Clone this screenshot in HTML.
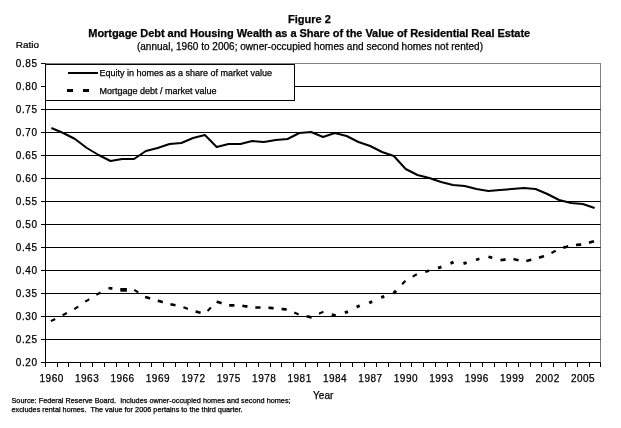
<!DOCTYPE html>
<html><head><meta charset="utf-8"><title>Figure 2</title>
<style>
html,body{margin:0;padding:0;background:#fff;width:621px;height:428px;overflow:hidden}
svg{display:block}
text{font-family:"Liberation Sans", Arial, sans-serif;fill:#000;stroke:#000;stroke-width:0.25px}
</style></head><body>
<svg width="621" height="428" viewBox="0 0 621 428">
<rect x="0" y="0" width="621" height="428" fill="#fff"/>

<text x="309.5" y="22.7" font-size="11" font-weight="bold" text-anchor="middle">Figure 2</text>
<text x="309.2" y="37" font-size="11" font-weight="bold" text-anchor="middle" letter-spacing="-0.05">Mortgage Debt and Housing Wealth as a Share of the Value of Residential Real Estate</text>
<text x="310" y="49.6" font-size="10" text-anchor="middle" letter-spacing="0.02">(annual, 1960 to 2006; owner-occupied homes and second homes not rented)</text>
<text transform="translate(15.7 47.9) scale(1 0.93)" font-size="10">Ratio</text>
<rect x="45.5" y="63.5" width="555.0" height="299.0" fill="none" stroke="#808080" stroke-width="1"/>
<path d="M45.5 86.5H600.5 M45.5 109.5H600.5 M45.5 132.5H600.5 M45.5 155.5H600.5 M45.5 178.5H600.5 M45.5 201.5H600.5 M45.5 224.5H600.5 M45.5 247.5H600.5 M45.5 270.5H600.5 M45.5 293.5H600.5 M45.5 316.5H600.5 M45.5 339.5H600.5" stroke="#000" stroke-width="1" fill="none"/>
<path d="M45.5 63.5V362.5H600.5" stroke="#000" stroke-width="1" fill="none"/>
<path d="M41 63.5H45.5 M41 86.5H45.5 M41 109.5H45.5 M41 132.5H45.5 M41 155.5H45.5 M41 178.5H45.5 M41 201.5H45.5 M41 224.5H45.5 M41 247.5H45.5 M41 270.5H45.5 M41 293.5H45.5 M41 316.5H45.5 M41 339.5H45.5 M41 362.5H45.5 M45.5 362.5V367 M57.5 362.5V367 M68.5 362.5V367 M80.5 362.5V367 M92.5 362.5V367 M104.5 362.5V367 M116.5 362.5V367 M128.5 362.5V367 M139.5 362.5V367 M151.5 362.5V367 M163.5 362.5V367 M175.5 362.5V367 M187.5 362.5V367 M199.5 362.5V367 M210.5 362.5V367 M222.5 362.5V367 M234.5 362.5V367 M246.5 362.5V367 M258.5 362.5V367 M270.5 362.5V367 M281.5 362.5V367 M293.5 362.5V367 M305.5 362.5V367 M317.5 362.5V367 M329.5 362.5V367 M340.5 362.5V367 M352.5 362.5V367 M364.5 362.5V367 M376.5 362.5V367 M388.5 362.5V367 M400.5 362.5V367 M411.5 362.5V367 M423.5 362.5V367 M435.5 362.5V367 M447.5 362.5V367 M459.5 362.5V367 M470.5 362.5V367 M482.5 362.5V367 M494.5 362.5V367 M506.5 362.5V367 M518.5 362.5V367 M530.5 362.5V367 M541.5 362.5V367 M553.5 362.5V367 M565.5 362.5V367 M577.5 362.5V367 M589.5 362.5V367 M600.5 362.5V367" stroke="#000" stroke-width="1" fill="none"/>
<text x="37.6" y="66.9" font-size="10" text-anchor="end" letter-spacing="0.6">0.85</text>
<text x="37.6" y="89.9" font-size="10" text-anchor="end" letter-spacing="0.6">0.80</text>
<text x="37.6" y="112.9" font-size="10" text-anchor="end" letter-spacing="0.6">0.75</text>
<text x="37.6" y="135.9" font-size="10" text-anchor="end" letter-spacing="0.6">0.70</text>
<text x="37.6" y="158.9" font-size="10" text-anchor="end" letter-spacing="0.6">0.65</text>
<text x="37.6" y="181.9" font-size="10" text-anchor="end" letter-spacing="0.6">0.60</text>
<text x="37.6" y="204.9" font-size="10" text-anchor="end" letter-spacing="0.6">0.55</text>
<text x="37.6" y="227.9" font-size="10" text-anchor="end" letter-spacing="0.6">0.50</text>
<text x="37.6" y="250.9" font-size="10" text-anchor="end" letter-spacing="0.6">0.45</text>
<text x="37.6" y="273.9" font-size="10" text-anchor="end" letter-spacing="0.6">0.40</text>
<text x="37.6" y="296.9" font-size="10" text-anchor="end" letter-spacing="0.6">0.35</text>
<text x="37.6" y="319.9" font-size="10" text-anchor="end" letter-spacing="0.6">0.30</text>
<text x="37.6" y="342.9" font-size="10" text-anchor="end" letter-spacing="0.6">0.25</text>
<text x="37.6" y="365.9" font-size="10" text-anchor="end" letter-spacing="0.6">0.20</text>
<text x="51.65" y="381.7" font-size="10" text-anchor="middle" letter-spacing="0.5">1960</text>
<text x="87.08" y="381.7" font-size="10" text-anchor="middle" letter-spacing="0.5">1963</text>
<text x="122.51" y="381.7" font-size="10" text-anchor="middle" letter-spacing="0.5">1966</text>
<text x="157.93" y="381.7" font-size="10" text-anchor="middle" letter-spacing="0.5">1969</text>
<text x="193.36" y="381.7" font-size="10" text-anchor="middle" letter-spacing="0.5">1972</text>
<text x="228.78" y="381.7" font-size="10" text-anchor="middle" letter-spacing="0.5">1975</text>
<text x="264.21" y="381.7" font-size="10" text-anchor="middle" letter-spacing="0.5">1978</text>
<text x="299.63" y="381.7" font-size="10" text-anchor="middle" letter-spacing="0.5">1981</text>
<text x="335.06" y="381.7" font-size="10" text-anchor="middle" letter-spacing="0.5">1984</text>
<text x="370.48" y="381.7" font-size="10" text-anchor="middle" letter-spacing="0.5">1987</text>
<text x="405.91" y="381.7" font-size="10" text-anchor="middle" letter-spacing="0.5">1990</text>
<text x="441.34" y="381.7" font-size="10" text-anchor="middle" letter-spacing="0.5">1993</text>
<text x="476.76" y="381.7" font-size="10" text-anchor="middle" letter-spacing="0.5">1996</text>
<text x="512.19" y="381.7" font-size="10" text-anchor="middle" letter-spacing="0.5">1999</text>
<text x="547.61" y="381.7" font-size="10" text-anchor="middle" letter-spacing="0.5">2002</text>
<text x="583.04" y="381.7" font-size="10" text-anchor="middle" letter-spacing="0.5">2005</text>
<text x="323.2" y="398.8" font-size="10" text-anchor="middle">Year</text>
<polyline points="51.40,128.00 63.21,133.00 75.02,139.00 86.83,148.00 98.64,155.00 110.45,161.00 122.26,159.00 134.06,159.00 145.87,151.00 157.68,148.00 169.49,144.00 181.30,143.00 193.11,138.00 204.91,135.00 216.72,147.00 228.53,144.00 240.34,144.00 252.15,141.00 263.96,142.00 275.77,140.00 287.57,139.00 299.38,133.00 311.19,132.00 323.00,137.00 334.81,133.00 346.62,136.00 358.43,142.00 370.23,146.00 382.04,152.00 393.85,156.00 405.66,169.00 417.47,175.00 429.28,178.00 441.09,182.00 452.89,185.00 464.70,186.00 476.51,189.00 488.32,191.00 500.13,190.00 511.94,189.00 523.74,188.00 535.55,189.00 547.36,194.00 559.17,200.00 570.98,203.00 582.79,204.00 594.60,208.00" fill="none" stroke="#000" stroke-width="2" stroke-linejoin="round"/>
<path d="M51.81 320.70L54.21 319.47M63.53 314.73L65.92 313.48M75.17 308.60L77.40 307.09M86.03 301.18L88.35 299.79M97.31 294.40L99.62 293.01M135.13 290.47L137.42 291.90M184.38 307.60L186.89 308.58M208.30 310.26L210.20 308.33M295.22 312.97L297.69 314.05M320.00 313.27L322.46 312.15M413.55 276.05L415.92 274.75M552.39 252.52L554.77 251.25" fill="none" stroke="#000" stroke-width="2.1" stroke-linecap="square"/>
<path d="M109.76 288.21L111.15 288.39M122.21 289.80L124.81 289.80M146.38 297.35L148.87 298.09M158.99 301.08L161.49 301.80M171.68 304.53L174.23 305.02M196.85 311.86L199.38 312.43M217.87 302.06L220.35 302.84M230.51 305.38L233.11 305.36M243.61 305.91L246.16 306.39M256.62 307.46L259.22 307.44M269.75 307.89L272.34 308.11M282.85 309.12L285.43 309.38M307.85 316.59L310.39 317.13M332.98 314.86L334.52 315.31M426.48 271.46L427.83 271.09M477.18 259.43L478.15 259.18M489.71 257.03L491.05 257.43M501.78 259.99L504.36 259.66M514.77 259.40L517.30 260.02M527.55 260.70L530.08 260.10M540.27 257.36L542.76 256.60M564.47 247.37L566.97 246.65M577.33 244.85L579.91 244.59M590.20 242.35L592.72 241.69" fill="none" stroke="#000" stroke-width="2.6" stroke-linecap="square"/>
<path d="M346.27 312.20L346.56 312.12M358.06 306.38L358.33 306.25M370.55 302.26L370.82 302.14M382.57 296.92L382.85 296.83M394.63 292.26L394.97 291.90M439.47 267.59L440.04 267.42M451.88 262.80L452.16 262.69M464.92 263.13L465.21 263.05" fill="none" stroke="#000" stroke-width="3.0" stroke-linecap="square"/>
<path d="M402.87 283.40L404.64 281.49" fill="none" stroke="#000" stroke-width="2.2" stroke-linecap="square"/>
<rect x="120.3" y="288" width="6.6" height="3.7" fill="#000"/>
<rect x="45.5" y="64.5" width="249" height="36" fill="#fff" stroke="#000" stroke-width="1"/>
<path d="M68 73H98" stroke="#000" stroke-width="2"/>
<path d="M67 90.5H73M83 90.5H89" stroke="#000" stroke-width="3"/>
<text x="99.5" y="75.6" font-size="9">Equity in homes as a share of market value</text>
<text x="99.5" y="93.6" font-size="9">Mortgage debt / market value</text>
<text x="11.5" y="403.3" font-size="7.3" xml:space="preserve">Source: Federal Reserve Board.  Includes owner-occupied homes and second homes;</text>
<text x="11.5" y="411.8" font-size="7.3" xml:space="preserve">excludes rental homes.  The value for 2006 pertains to the third quarter.</text>
</svg>
</body></html>
